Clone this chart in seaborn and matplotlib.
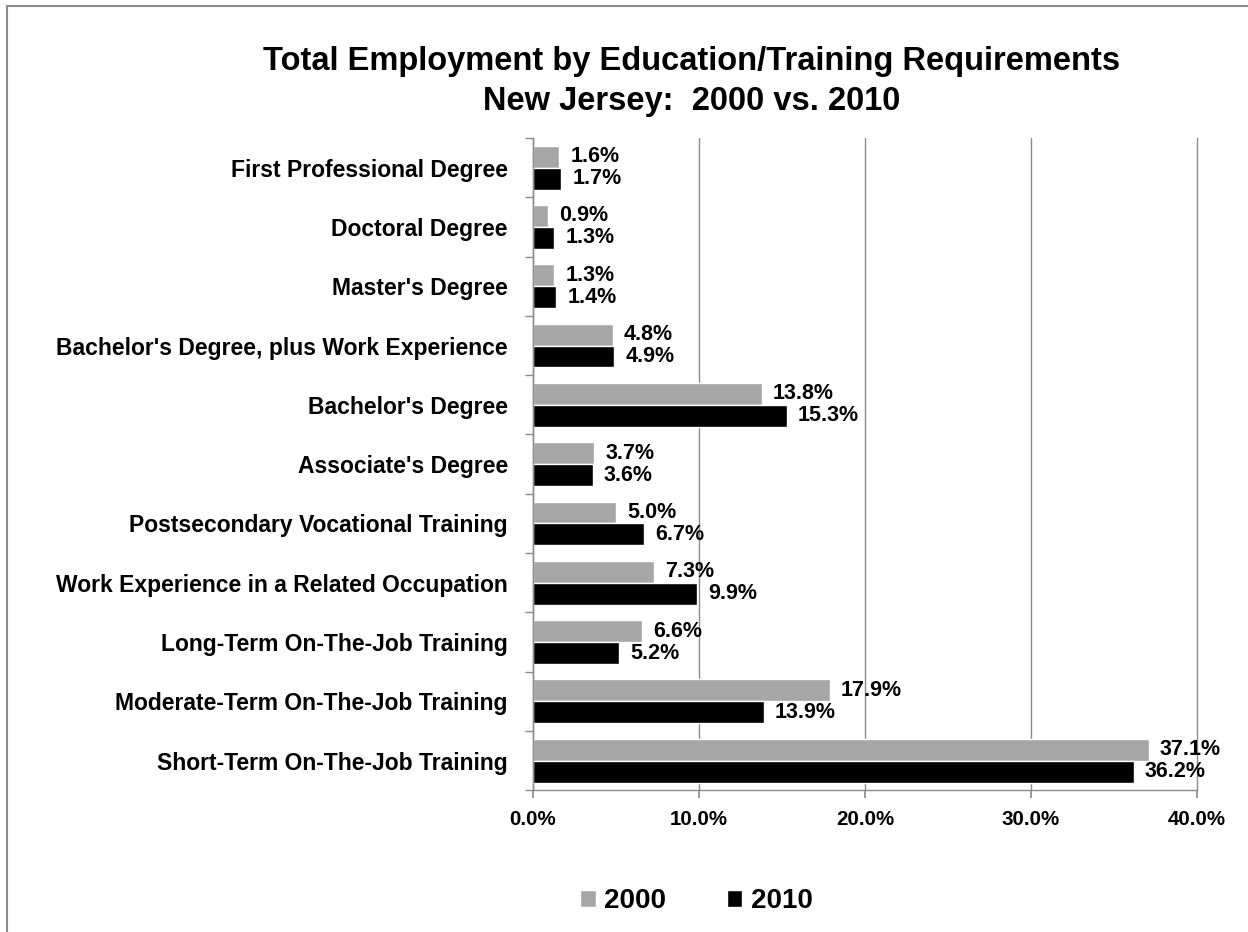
import pandas as pd
import seaborn as sns
import matplotlib.pyplot as plt
from matplotlib.lines import Line2D
from matplotlib.ticker import FuncFormatter, FixedLocator

# data
categories = [
    "First Professional Degree",
    "Doctoral Degree",
    "Master's Degree",
    "Bachelor's Degree, plus Work Experience",
    "Bachelor's Degree",
    "Associate's Degree",
    "Postsecondary Vocational Training",
    "Work Experience in a Related Occupation",
    "Long-Term On-The-Job Training",
    "Moderate-Term On-The-Job Training",
    "Short-Term On-The-Job Training",
]
values_2000 = [1.6, 0.9, 1.3, 4.8, 13.8, 3.7, 5.0, 7.3, 6.6, 17.9, 37.1]
values_2010 = [1.7, 1.3, 1.4, 4.9, 15.3, 3.6, 6.7, 9.9, 5.2, 13.9, 36.2]
years = ["2000", "2010"]

df = pd.DataFrame({
    "category": categories * 2,
    "value": values_2000 + values_2010,
    "year": [years[0]] * len(categories) + [years[1]] * len(categories),
})

sns.set_theme(style="white")
plt.rcParams["font.family"] = ["Liberation Sans", "DejaVu Sans"]
plt.rcParams["font.weight"] = "bold"
plt.rcParams["text.color"] = "black"
plt.rcParams["xtick.labelcolor"] = "black"
plt.rcParams["ytick.labelcolor"] = "black"

fig = plt.figure(figsize=(12.48, 9.32), dpi=100)
ax = fig.add_axes([0.427, 0.152, 0.532, 0.700])

sns.barplot(data=df, y="category", x="value", hue="year", orient="h",
            palette=["#a6a6a6", "#000000"], width=0.74, gap=0,
            saturation=1, ax=ax, legend=True)

# value labels
for cont in ax.containers:
    ax.bar_label(cont, labels=[f"{v:.1f}%" for v in cont.datavalues],
                 padding=8, fontsize=15.5, fontweight="bold", color="black")

ax.set_xlim(0, 40)
ax.set_xticks([0, 10, 20, 30, 40])
ax.xaxis.set_major_formatter(FuncFormatter(lambda v, p: f"{v:.1f}%"))
ax.set_ylim(len(categories) - 0.5, -0.5)
ax.set_xlabel("")
ax.set_ylabel("")

ax.grid(axis="x", color="#8c8c8c", linewidth=1)
for gl in ax.get_xgridlines():
    gl.set_clip_on(False)
ax.set_axisbelow(True)
for side in ["top", "right"]:
    ax.spines[side].set_visible(False)
for side in ["left", "bottom"]:
    ax.spines[side].set_color("#8c8c8c")
    ax.spines[side].set_linewidth(1)

# ticks: x at gridlines, y at category boundaries
ax.tick_params(axis="x", which="major", bottom=True, length=6, color="#8c8c8c",
               labelsize=14.8, pad=8, labelcolor="black")
ax.tick_params(axis="y", which="major", left=False, labelsize=16.5, pad=12,
               labelcolor="black")
ax.yaxis.set_minor_locator(FixedLocator([i - 0.5 for i in range(len(categories) + 1)]))
ax.tick_params(axis="y", which="minor", left=True, length=6, color="#8c8c8c")
for lbl in ax.get_xticklabels() + ax.get_yticklabels():
    lbl.set_fontweight("bold")

# legend
handles, labels = ax.get_legend_handles_labels()
ax.get_legend().remove()
fig.legend(handles, labels, loc="center", bbox_to_anchor=(0.558, 0.033),
           ncol=2, frameon=False, prop={"size": 20, "weight": "bold"},
           handlelength=0.55, handleheight=0.55, handletextpad=0.3,
           columnspacing=2.2)

# title
fig.text(0.554, 0.934, "Total Employment by Education/Training Requirements",
         ha="center", va="center", fontsize=23.5, fontweight="bold")
fig.text(0.554, 0.891, "New Jersey:  2000 vs. 2010",
         ha="center", va="center", fontsize=23.5, fontweight="bold")

# outer chart frame
fig.add_artist(Line2D([7 / 1248, 1.0], [1 - 6 / 932, 1 - 6 / 932],
                      transform=fig.transFigure, color="#8c8c8c", linewidth=1.5))
fig.add_artist(Line2D([7 / 1248, 7 / 1248], [0.0, 1 - 6 / 932],
                      transform=fig.transFigure, color="#8c8c8c", linewidth=1.5))

fig.savefig("out.png", dpi=100)
